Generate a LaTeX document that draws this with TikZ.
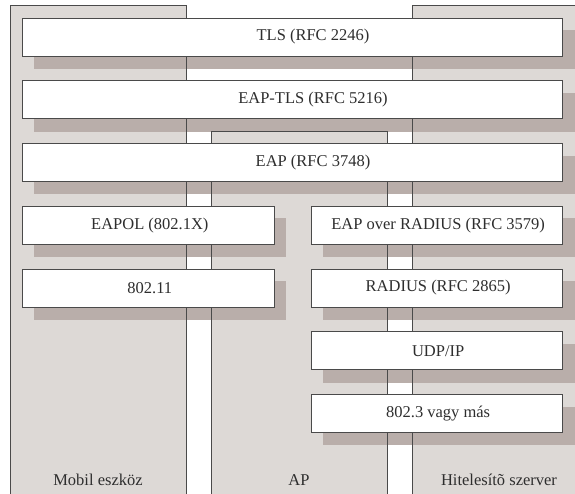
\documentclass[tikz,border=0pt]{standalone}
\usepackage{fontspec}
\setmainfont{Liberation Serif}
\pgfdeclarelayer{bg}
\pgfdeclarelayer{shad}
\pgfdeclarelayer{lines}
\pgfsetlayers{bg,shad,lines,main}
\definecolor{colfill}{HTML}{DDD9D6}
\definecolor{shadc}{HTML}{B9AEAA}
\definecolor{edgec}{HTML}{4A4A4A}
\definecolor{txtc}{HTML}{2E2E2E}
\tikzset{
  box/.style={draw=edgec, line width=0.9pt, fill=white, rectangle, minimum height=38pt, inner sep=0pt, text=txtc, font=\fontsize{16.5}{19}\selectfont},
  wide/.style={box, minimum width=539.6pt},
  half/.style={box, minimum width=251.3pt},
  collabel/.style={anchor=base, text=txtc, font=\fontsize{16.5}{19}\selectfont, inner sep=0pt},
  colline/.style={draw=edgec, line width=0.9pt}
}
\newcommand{\boxshadow}[1]{\fill[shadc] ([shift={(12,12.5)}]#1.north west) rectangle ([shift={(12,12.5)}]#1.south east);}
\newcommand{\wshift}{\hspace*{41pt}}
\newcommand{\hshift}{\hspace*{3pt}}
\begin{document}
\begin{tikzpicture}[x=1pt,y=-1pt]
\useasboundingbox (0,0) rectangle (575,494);
% boxes
\node[wide] (tls) at (292.5,37) {\wshift TLS (RFC 2246)};
\node[wide] (eaptls) at (292.5,99.75) {\wshift EAP-TLS (RFC 5216)};
\node[wide] (eap) at (292.5,162.5) {\wshift EAP (RFC 3748)};
\node[half] (eapol) at (148.35,225.25) {\hshift EAPOL (802.1X)};
\node[half] (wifi) at (148.35,288) {\hshift 802.11};
\node[half] (eapr) at (436.65,225.25) {\hshift EAP over RADIUS (RFC 3579)};
\node[half] (radius) at (436.65,288) {\hshift RADIUS (RFC 2865)};
\node[half] (udp) at (436.65,350.75) {\hshift UDP/IP};
\node[half] (eth) at (436.65,413.5) {\hshift 802.3 vagy más};
% labels
\node[collabel] (lmob) at (98,485.5) {Mobil eszköz};
\node[collabel] (lap) at (299,485.5) {AP};
\node[collabel] (lsrv) at (499,485.5) {Hitelesítõ szerver};
\begin{pgfonlayer}{bg}
  \fill[colfill] (10,5) rectangle (186,494);
  \fill[colfill] (211,131) rectangle (387,494);
  \fill[colfill] (412,5) rectangle (575,494);
\end{pgfonlayer}
\begin{pgfonlayer}{shad}
  \boxshadow{tls}
  \boxshadow{eaptls}
  \boxshadow{eap}
  \boxshadow{eapol}
  \boxshadow{wifi}
  \boxshadow{eapr}
  \boxshadow{radius}
  \boxshadow{udp}
  \boxshadow{eth}
\end{pgfonlayer}
\begin{pgfonlayer}{lines}
  \draw[colline] (10,494) -- (10,5) -- (186,5) -- (186,494);
  \draw[colline] (211,494) -- (211,131) -- (387,131) -- (387,494);
  \draw[colline] (412,494) -- (412,5) -- (576,5);
\end{pgfonlayer}
\end{tikzpicture}
\end{document}
